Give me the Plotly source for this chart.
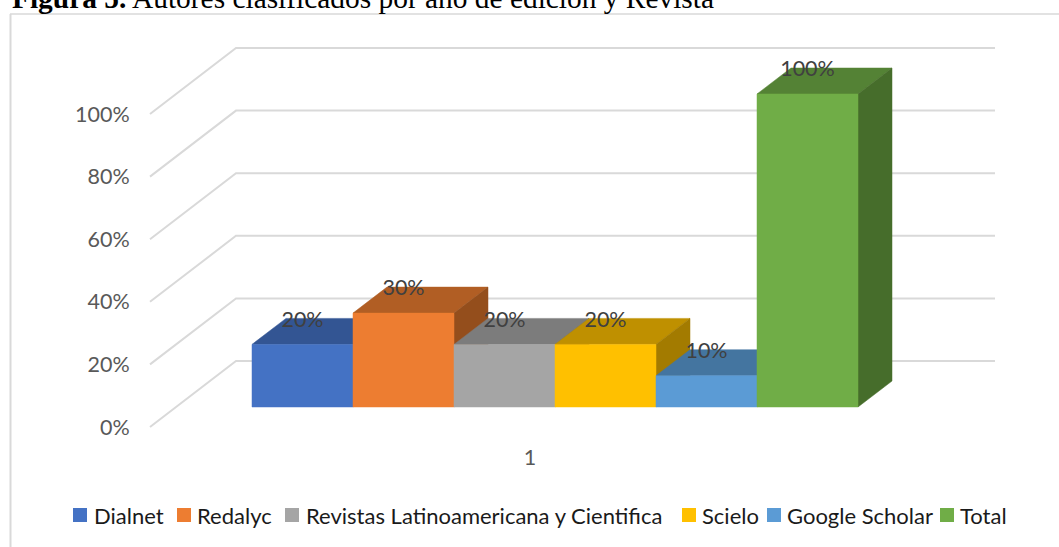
import plotly.graph_objects as go

# ---- data ----
series = ["Dialnet", "Redalyc", "Revistas Latinoamericana y Cientifica", "Scielo", "Google Scholar", "Total"]
values = [20, 30, 20, 20, 10, 100]
labels = ["20%", "30%", "20%", "20%", "10%", "100%"]
y_ticks = [0, 20, 40, 60, 80, 100]
y_tick_labels = ["0%", "20%", "40%", "60%", "80%", "100%"]
category = "1"
title_bold = "Figura 5."
title_rest = " Autores clasificados por año de edición y Revista"

# ---- styles ----
front = ["#4472C4", "#ED7D31", "#A5A5A5", "#FFC000", "#5B9BD5", "#70AD47"]
top = ["#335593", "#B15E24", "#7C7C7C", "#BF9000", "#4475A0", "#548235"]
side = ["#29447A", "#944E1C", "#636363", "#A37B00", "#376085", "#466D2B"]
GRID = "#D9D9D9"
W, H = 1059, 547
PX_X0, PX_BAR = 252, 101      # pixel of x=0, pixels per bar
PX_Y0, PX_PCT = 407, 3.13     # pixel of 0 %, pixels per 1 %
PLOT_L, PLOT_T, PLOT_B = 146, 16, 436
BAR_DX, BAR_DY = 34 / PX_BAR, 26 / PX_PCT
LABEL_DY = -3 / PX_PCT
FLOOR_FRONT_DY = -20 / PX_PCT
FLOOR_BACK_DY = 46 / PX_PCT
WALL_LEFT = (150 - PX_X0) / PX_BAR
WALL_BACK = (236 - PX_X0) / PX_BAR
WALL_RIGHT = (995 - PX_X0) / PX_BAR

fig = go.Figure()

def poly(xs, ys, color):
    fig.add_trace(go.Scatter(x=xs, y=ys, mode="lines", fill="toself", fillcolor=color,
                             line=dict(color=color, width=0.5), showlegend=False, hoverinfo="skip"))

for v in y_ticks:
    fig.add_trace(go.Scatter(
        x=[WALL_LEFT, WALL_BACK, WALL_RIGHT],
        y=[v + FLOOR_FRONT_DY, v + FLOOR_BACK_DY, v + FLOOR_BACK_DY],
        mode="lines", line=dict(color=GRID, width=2), showlegend=False, hoverinfo="skip"))

for i, v in enumerate(values):
    l, r = i, i + 1
    poly([l, r, r + BAR_DX, l + BAR_DX, l], [v, v, v + BAR_DY, v + BAR_DY, v], top[i])
    poly([r, r + BAR_DX, r + BAR_DX, r, r], [0, BAR_DY, v + BAR_DY, v, 0], side[i])
    poly([l, r, r, l, l], [0, 0, v, v, 0], front[i])

fig.add_trace(go.Scatter(
    x=[i + 0.5 for i in range(len(values))],
    y=[v + BAR_DY + LABEL_DY for v in values],
    mode="text", text=labels, textposition="middle center",
    textfont=dict(family="Lato", size=21.5, color="#404040"),
    showlegend=False, hoverinfo="skip"))

# frame
shapes = [
    dict(type="line", xref="paper", yref="paper", x0=10.5 / W, x1=10.5 / W, y0=0, y1=1 - 14 / H,
         line=dict(color=GRID, width=2)),
    dict(type="line", xref="paper", yref="paper", x0=10 / W, x1=1, y0=1 - 14 / H, y1=1 - 14 / H,
         line=dict(color=GRID, width=1.5)),
]
annotations = [dict(
    xref="paper", yref="paper", x=11 / W, y=1 - 15 / H, xanchor="left", yanchor="bottom", showarrow=False,
    text=f"<b>{title_bold}</b>{title_rest}", borderpad=0,
    font=dict(family="Liberation Serif", size=29.4, color="#000000"))]

# legend
sw_x = [73, 177, 285, 682, 767, 940]
tx_x = [93, 196, 305, 701, 786, 959]
for name, c, sx, tx in zip(series, front, sw_x, tx_x):
    shapes.append(dict(type="rect", xref="paper", yref="paper", x0=sx / W, x1=(sx + 14) / W,
                       y0=1 - 522 / H, y1=1 - 508 / H, fillcolor=c, line=dict(width=0)))
    annotations.append(dict(xref="paper", yref="paper", x=tx / W, y=1 - 515 / H, xanchor="left", yanchor="middle",
                            showarrow=False, text=name, borderpad=0,
                            font=dict(family="Lato", size=22, color="#1A1A1A")))

fig.update_layout(
    width=W, height=H, margin=dict(l=0, r=0, t=0, b=0, autoexpand=False), autosize=False,
    paper_bgcolor="white", plot_bgcolor="rgba(0,0,0,0)", showlegend=False,
    shapes=shapes, annotations=annotations,
    xaxis=dict(domain=[PLOT_L / W, 1], range=[(PLOT_L - PX_X0) / PX_BAR, (W - PX_X0) / PX_BAR],
               showgrid=False, zeroline=False, showline=False, automargin=False,
               tickmode="array", tickvals=[(530 - PX_X0) / PX_BAR], ticktext=[category],
               ticks="outside", ticklen=2, tickcolor="rgba(0,0,0,0)",
               tickfont=dict(family="Lato", size=21.5, color="#595959")),
    yaxis=dict(domain=[1 - PLOT_B / H, 1 - PLOT_T / H],
               range=[(PX_Y0 - PLOT_B) / PX_PCT, (PX_Y0 - PLOT_T) / PX_PCT],
               showgrid=False, zeroline=False, showline=False, automargin=False,
               tickmode="array", tickvals=[v + FLOOR_FRONT_DY for v in y_ticks], ticktext=y_tick_labels,
               ticks="outside", ticklen=11, tickcolor="rgba(0,0,0,0)",
               tickfont=dict(family="Lato", size=21.5, color="#595959")),
)
fig.write_html("out.html", config={"displayModeBar": False, "responsive": False},
               post_script="document.body.style.margin='0';document.body.style.overflow='hidden';")
